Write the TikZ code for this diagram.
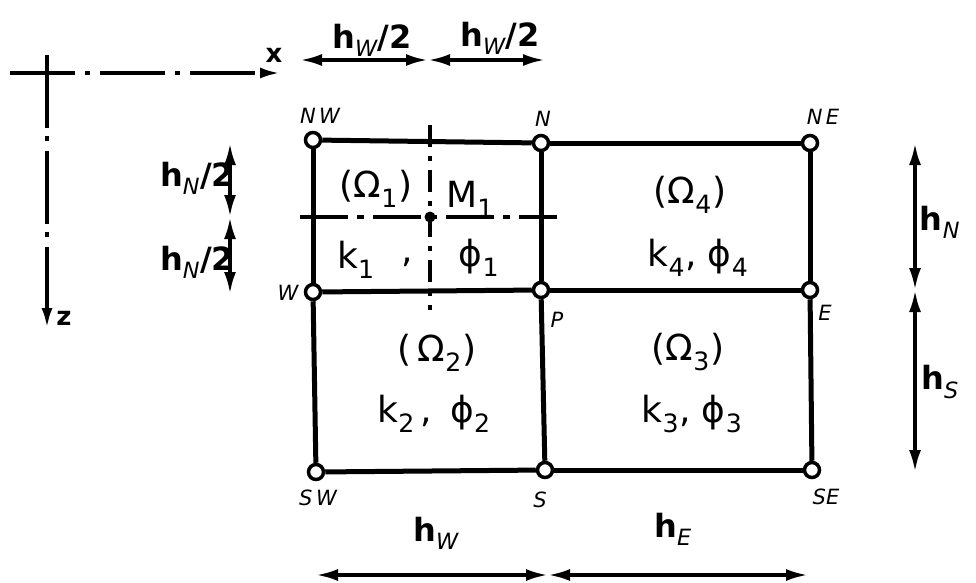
\documentclass[tikz,border=0pt]{standalone}
\usepackage{fontspec}
\setmainfont{DejaVu Sans}
\usetikzlibrary{arrows.meta}
\newcommand{\hlab}[2]{{\bfseries h}\textsubscript{\mdseries\itshape #1}{\bfseries #2}}
\begin{document}
\begin{tikzpicture}[x=1pt,y=-1pt,
 gridline/.style={line width=5pt},
 pt/.style={circle,draw,fill=white,line width=3.5pt,minimum size=15pt,inner sep=0pt},
 axis/.style={line width=3.5pt,-{Latex[length=20pt,width=11pt]}},
 cross/.style={line width=3.5pt,dash pattern=on 48pt off 9pt on 7pt off 9pt},
 dim/.style={line width=3.5pt,{Latex[length=22pt,width=12pt]}-{Latex[length=22pt,width=12pt]}},
 lbl/.style={font=\fontsize{21}{21}\selectfont\itshape},
 reg/.style={font=\fontsize{36}{36}\selectfont},
 hl/.style={font=\fontsize{32}{32}\selectfont}]
\useasboundingbox (0,0) rectangle (976,582);
% axes
\coordinate (ax0) at (10,73);
\coordinate (ax1) at (280,73);
\coordinate (az0) at (47,55);
\coordinate (az1) at (47,328);
\draw[axis,dash pattern=on 65pt off 10pt on 5pt off 10pt] (ax0) -- (ax1);
\draw[axis,dash pattern=on 73pt off 8pt on 5pt off 10pt] (az0) -- (az1);
\node[font=\fontsize{26}{26}\selectfont\bfseries] (xl) at (274,55) {x};
\node[font=\fontsize{26}{26}\selectfont\bfseries] (zl) at (64,318) {z};
% grid points
\node[pt] (NW) at (313,140) {};
\node[pt] (N) at (541,143) {};
\node[pt] (NE) at (810,143) {};
\node[pt] (W) at (313,292) {};
\node[pt] (P) at (541,290) {};
\node[pt] (E) at (810,290) {};
\node[pt] (SW) at (316,472) {};
\node[pt] (S) at (545,470) {};
\node[pt] (SE) at (812,470) {};
\draw[gridline] (NW) -- (N); \draw[gridline] (N) -- (NE);
\draw[gridline] (W) -- (P); \draw[gridline] (P) -- (E);
\draw[gridline] (SW) -- (S); \draw[gridline] (S) -- (SE);
\draw[gridline] (NW) -- (W); \draw[gridline] (W) -- (SW);
\draw[gridline] (N) -- (P); \draw[gridline] (P) -- (S);
\draw[gridline] (NE) -- (E); \draw[gridline] (E) -- (SE);
% cross through M1
\node[circle,fill,inner sep=0pt,minimum size=11pt] (M1) at (430,217) {};
\coordinate (chl) at (300,217);
\coordinate (chr) at (557,217);
\coordinate (cvt) at (430,125);
\coordinate (cvb) at (430,310);
\draw[cross] (chl) -- (chr);
\draw[line width=3.5pt,dash pattern=on 22pt off 9pt on 5pt off 9pt] (cvt) -- (cvb);
% point labels
\node[lbl] (lNW) at (320,116) {N\,W};
\node[lbl] (lN) at (543,119) {N};
\node[lbl] (lNE) at (823,117) {N\,E};
\node[lbl] (lW) at (288,293) {W};
\node[lbl] (lP) at (557,320) {P};
\node[lbl] (lE) at (825,313) {E};
\node[lbl] (lSW) at (318,498) {S\,W};
\node[lbl] (lS) at (540,500) {S};
\node[lbl] (lSE) at (826,497) {SE};
% region labels
\node[reg] (o1) at (376,189) {(Ω\textsubscript{1})};
\node[reg] (m1) at (470,199) {M\textsubscript{1}};
\node[reg] (k1) at (356,260) {k\textsubscript{1}};
\node[reg] (c1) at (407,262) {,};
\node[reg] (f1) at (479,258) {ϕ\textsubscript{1}};
\node[reg] (o2) at (437,353) {(\,Ω\textsubscript{2})};
\node[reg] (kf2) at (434,414) {k\textsubscript{2}\,,\enspace ϕ\textsubscript{2}};
\node[reg] (o4) at (690,195) {(Ω\textsubscript{4})};
\node[reg] (kf4) at (698,258) {k\textsubscript{4}, ϕ\textsubscript{4}};
\node[reg] (o3) at (688,352) {(Ω\textsubscript{3})};
\node[reg] (kf3) at (692,414) {k\textsubscript{3}, ϕ\textsubscript{3}};
% top dimension
\coordinate (tl) at (300,60);
\coordinate (tm) at (428,60);
\coordinate (tr) at (545,60);
\draw[dim] (tl) -- (tm);
\draw[dim] (tm) -- (tr);
\node[hl] (th1) at (372,40) {\hlab{W}{/2}};
\node[hl] (th2) at (500,38) {\hlab{W}{/2}};
% left dimension
\coordinate (lt) at (230,143);
\coordinate (lm) at (230,217);
\coordinate (lb) at (230,294);
\draw[dim] (lt) -- (lm);
\draw[dim] (lm) -- (lb);
\node[hl] (lh1) at (197,178) {\hlab{N}{/2}};
\node[hl] (lh2) at (197,262) {\hlab{N}{/2}};
% right dimension
\coordinate (rt) at (915,143);
\coordinate (rm) at (915,290);
\coordinate (rb) at (915,472);
\draw[dim] (rt) -- (rm);
\draw[dim] (rm) -- (rb);
\node[hl] (rh1) at (940,222) {\hlab{N}{}};
\node[hl] (rh2) at (940,382) {\hlab{S}{}};
% bottom dimension
\coordinate (bl) at (316,575);
\coordinate (bm) at (548,575);
\coordinate (br) at (808,575);
\draw[dim] (bl) -- (bm);
\draw[dim] (bm) -- (br);
\node[hl] (bh1) at (436,533) {\hlab{W}{}};
\node[hl] (bh2) at (673,529) {\hlab{E}{}};
\end{tikzpicture}
\end{document}
